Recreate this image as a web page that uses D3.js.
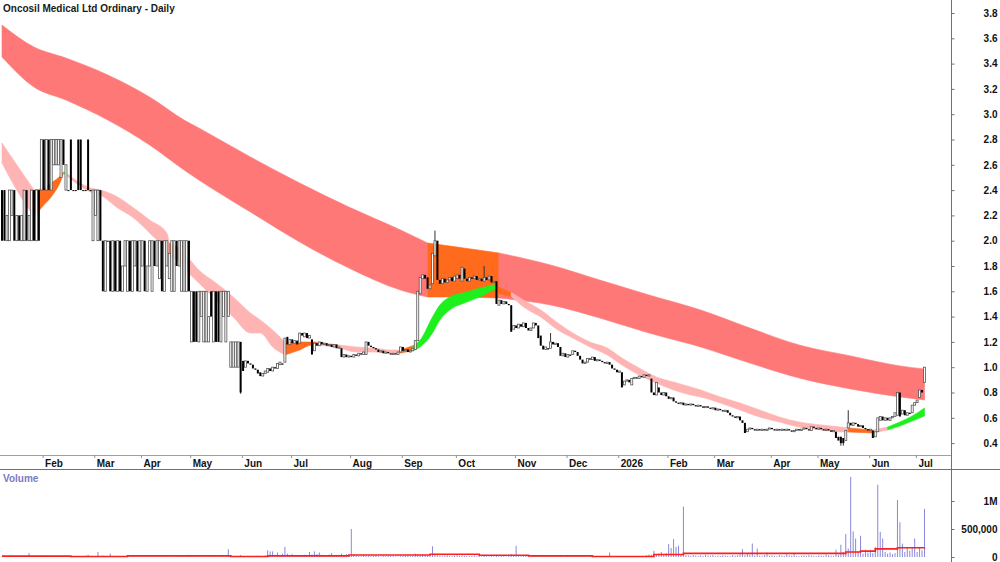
<!DOCTYPE html>
<html>
<head>
<meta charset="utf-8">
<script src="https://cdnjs.cloudflare.com/ajax/libs/d3/7.8.5/d3.min.js"></script>
<style>
    body { margin: 0; background: #fff; }
    #chart-area text { font-family: "Liberation Sans", Arial, sans-serif; font-weight: bold; }
</style>
</head>
<body>
<div id="chart-area"></div>
<script>

// ---- data ----
var titleText = "Oncosil Medical Ltd Ordinary - Daily";

var monthLabels = ["Feb","Mar","Apr","May","Jun","Jul","Aug","Sep","Oct","Nov","Dec","2026","Feb","Mar","Apr","May","Jun","Jul"];
var monthStarts = [17, 38, 57, 77, 98, 118, 142, 163, 185, 209, 230, 251, 271, 290, 313, 332, 353, 372];

var priceTicks = [0.4, 0.6, 0.8, 1.0, 1.2, 1.4, 1.6, 1.8, 2.0, 2.2, 2.4, 2.6, 2.8, 3.0, 3.2, 3.4, 3.6, 3.8];
var volumeTicks = [0, 500000, 1000000];
var volumeTickLabels = ["0", "500,000", "1M"];

// [open, close] per daily bar
var ocBars = [
    [2.4,2.0],[2.4,2.0],[2.0,2.2],[2.0,2.4],[2.2,2.4],[2.4,2.0],[2.0,2.2],[2.2,2.0],[2.0,2.2],[2.0,2.4],
    [2.4,2.0],[2.0,2.2],[2.0,2.4],[2.4,2.0],[2.0,2.4],[2.4,2.0],[2.4,2.8],[2.8,2.4],[2.4,2.8],[2.8,2.4],
    [2.4,2.8],[2.6,2.8],[2.6,2.8],[2.6,2.8],[2.5,2.8],[2.8,2.6],[2.4,2.6],[2.4,2.4],[2.8,2.4],[2.4,2.4],
    [2.4,2.4],[2.8,2.4],[2.8,2.4],[2.4,2.4],[2.4,2.4],[2.8,2.4],[2.4,2.4],[2.0,2.4],[2.2,2.4],[2.0,2.4],
    [2.4,2.0],[2.0,1.6],[1.6,2.0],[2.0,2.0],[2.0,1.6],[1.6,2.0],[2.0,1.6],[1.6,2.0],[2.0,1.6],[1.6,1.8],
    [1.8,2.0],[1.6,2.0],[2.0,1.6],[1.6,2.0],[1.8,2.0],[2.0,1.6],[1.6,2.0],[1.8,2.0],[2.0,1.6],[1.6,1.8],
    [1.8,2.0],[1.6,2.0],[2.0,1.8],[1.8,2.0],[1.7,2.0],[2.0,1.6],[1.6,2.0],[1.8,2.0],[1.7,1.9],[1.6,2.0],
    [1.6,2.0],[2.0,1.8],[1.8,2.0],[1.6,2.0],[1.6,2.0],[1.6,2.0],[2.0,1.6],[1.2,1.6],[1.6,1.2],[1.6,1.2],
    [1.2,1.6],[1.4,1.6],[1.2,1.6],[1.2,1.6],[1.2,1.4],[1.6,1.4],[1.2,1.6],[1.6,1.2],[1.6,1.2],[1.2,1.6],
    [1.4,1.6],[1.2,1.6],[1.4,1.6],[1.0,1.2],[1.0,1.2],[1.0,1.2],[1.0,1.2],[1.2,0.8],[1.05,0.97],[1.0,1.05],
    [1.05,1.03],[1.03,1.02],[1.02,0.99],[0.99,0.98],[0.98,0.95],[0.96,0.93],[0.93,0.95],[0.95,0.97],[0.96,0.99],[0.99,0.97],
    [0.97,1.0],[1.0,0.99],[0.99,1.03],[1.02,1.04],[1.03,1.02],[1.04,1.23],[1.24,1.18],[1.18,1.22],[1.22,1.19],[1.19,1.21],
    [1.21,1.18],[1.19,1.27],[1.27,1.25],[1.24,1.27],[1.27,1.23],[1.23,1.25],[1.22,1.10],[1.13,1.19],[1.19,1.17],[1.17,1.20],
    [1.20,1.18],[1.18,1.19],[1.19,1.17],[1.17,1.18],[1.18,1.16],[1.16,1.18],[1.18,1.15],[1.15,1.16],[1.15,1.08],[1.08,1.10],
    [1.10,1.08],[1.08,1.09],[1.09,1.08],[1.08,1.10],[1.10,1.09],[1.09,1.11],[1.11,1.10],[1.10,1.12],[1.10,1.20],[1.20,1.17],
    [1.17,1.16],[1.16,1.15],[1.15,1.14],[1.14,1.12],[1.12,1.13],[1.13,1.11],[1.11,1.12],[1.12,1.11],[1.11,1.10],[1.10,1.11],
    [1.11,1.10],[1.10,1.12],[1.12,1.16],[1.16,1.13],[1.13,1.14],[1.14,1.12],[1.12,1.13],[1.13,1.15],[1.14,1.21],[1.21,1.60],
    [1.58,1.71],[1.70,1.73],[1.73,1.70],[1.71,1.62],[1.62,1.65],[1.66,1.90],[1.88,2.00],[2.00,1.69],[1.69,1.66],[1.66,1.70],
    [1.70,1.67],[1.67,1.69],[1.69,1.71],[1.71,1.68],[1.68,1.72],[1.70,1.73],[1.73,1.70],[1.68,1.79],[1.78,1.70],[1.70,1.68],
    [1.68,1.71],[1.71,1.70],[1.70,1.72],[1.72,1.69],[1.69,1.70],[1.70,1.68],[1.68,1.71],[1.71,1.69],[1.69,1.72],[1.72,1.67],
    [1.67,1.68],[1.68,1.50],[1.49,1.53],[1.53,1.50],[1.50,1.52],[1.52,1.50],[1.50,1.49],[1.49,1.28],[1.30,1.33],[1.33,1.31],
    [1.31,1.34],[1.34,1.32],[1.32,1.35],[1.35,1.31],[1.31,1.29],[1.29,1.31],[1.31,1.35],[1.35,1.33],[1.33,1.23],[1.25,1.17],
    [1.17,1.14],[1.14,1.16],[1.15,1.14],[1.15,1.20],[1.20,1.18],[1.18,1.19],[1.19,1.16],[1.16,1.09],[1.09,1.11],[1.11,1.08],
    [1.08,1.10],[1.10,1.09],[1.10,1.13],[1.13,1.12],[1.12,1.09],[1.09,1.06],[1.06,1.03],[1.03,1.04],[1.04,1.07],[1.07,1.06],
    [1.06,1.08],[1.08,1.05],[1.05,1.06],[1.06,1.05],[1.05,1.04],[1.04,1.03],[1.03,1.04],[1.04,1.02],[1.02,0.99],[0.99,0.98],
    [0.98,0.96],[0.96,0.97],[0.96,0.84],[0.86,0.89],[0.89,0.90],[0.90,0.88],[0.86,0.91],[0.91,0.92],[0.92,0.91],[0.91,0.93],
    [0.93,0.92],[0.92,0.94],[0.94,0.93],[0.93,0.94],[0.91,0.80],[0.80,0.78],[0.78,0.88],[0.84,0.80],[0.80,0.78],[0.78,0.80],
    [0.80,0.77],[0.77,0.75],[0.75,0.76],[0.76,0.73],[0.73,0.72],[0.72,0.71],[0.71,0.72],[0.72,0.70],[0.70,0.71],[0.71,0.70],
    [0.70,0.71],[0.71,0.70],[0.70,0.69],[0.69,0.70],[0.70,0.69],[0.69,0.68],[0.68,0.69],[0.69,0.68],[0.68,0.67],[0.67,0.68],
    [0.68,0.66],[0.66,0.67],[0.67,0.66],[0.66,0.65],[0.65,0.66],[0.66,0.64],[0.64,0.62],[0.62,0.61],[0.61,0.60],[0.60,0.61],
    [0.61,0.58],[0.58,0.56],[0.56,0.48],[0.49,0.51],[0.51,0.52],[0.52,0.51],[0.51,0.50],[0.50,0.51],[0.51,0.50],[0.50,0.51],
    [0.51,0.50],[0.50,0.51],[0.51,0.52],[0.52,0.51],[0.51,0.50],[0.50,0.51],[0.51,0.50],[0.50,0.51],[0.51,0.50],[0.50,0.51],
    [0.51,0.50],[0.50,0.49],[0.49,0.50],[0.50,0.51],[0.51,0.50],[0.50,0.51],[0.51,0.52],[0.52,0.51],[0.51,0.50],[0.50,0.53],
    [0.53,0.52],[0.52,0.51],[0.51,0.52],[0.52,0.51],[0.51,0.50],[0.50,0.51],[0.51,0.50],[0.50,0.49],[0.49,0.50],[0.49,0.44],
    [0.45,0.42],[0.45,0.40],[0.44,0.40],[0.42,0.50],[0.52,0.56],[0.56,0.54],[0.54,0.56],[0.56,0.55],[0.55,0.53],[0.53,0.54],
    [0.54,0.52],[0.52,0.51],[0.51,0.50],[0.50,0.51],[0.50,0.44],[0.45,0.49],[0.49,0.60],[0.58,0.61],[0.61,0.58],[0.58,0.60],
    [0.60,0.58],[0.58,0.60],[0.60,0.61],[0.61,0.64],[0.62,0.80],[0.80,0.61],[0.63,0.66],[0.66,0.62],[0.62,0.64],[0.64,0.63],
    [0.64,0.70],[0.70,0.72],[0.72,0.74],[0.76,0.82],[0.82,0.80],[0.88,1.00]
];

// [bar, high, low] for bars with shadows beyond the body
var wicks = [[97, 1.2, 0.79], [176, 2.08, 1.88], [196, 1.80, 1.68], [223, 1.27, 1.15],
             [341, 0.45, 0.38], [342, 0.44, 0.38], [344, 0.66, 0.52]];

// daily volume, thousands of shares
var volumesK = [
    10,15,8,12,5,20,10,8,15,12,  10,70,12,8,15,20,10,12,25,15,
    10,8,12,20,10,15,8,5,12,10,  8,15,10,12,20,40,15,10,12,90,
    15,25,12,10,60,20,10,15,8,12,  10,8,5,12,10,8,15,10,5,8,
    10,12,8,5,10,8,12,10,8,5,  10,8,12,15,10,12,40,10,8,12,
    10,8,5,10,12,8,10,5,8,10,  12,10,140,15,10,8,20,35,15,10,
    12,20,15,10,25,12,18,30,120,100,  100,40,80,35,60,180,60,40,50,30,
    25,35,30,40,35,90,45,100,50,80,  40,30,35,45,70,30,25,40,60,35,
    50,30,500,40,25,20,15,30,25,20,  15,20,25,15,10,20,15,25,20,15,
    10,12,15,20,25,30,15,20,60,40,  30,45,35,25,40,190,60,30,25,20,
    25,30,20,15,25,30,20,25,20,15,  15,20,25,15,20,10,25,15,12,15,
    10,20,15,25,15,10,20,50,30,200,  20,15,25,20,15,12,20,25,15,20,
    25,15,30,20,15,12,20,15,10,8,  12,15,10,8,12,10,15,12,8,10,
    12,15,10,20,15,10,12,80,15,10,  8,12,15,10,8,12,10,15,12,8,
    10,12,30,45,40,110,50,60,90,55,  70,230,160,320,180,200,40,900,30,25,
    20,35,25,15,30,20,40,25,20,35,  15,25,20,30,25,20,15,35,25,30,
    45,140,35,60,40,240,30,150,25,20,  35,80,25,30,20,15,35,25,20,50,
    30,25,60,20,15,25,30,20,35,25,  20,15,30,25,20,45,30,25,20,130,
    40,220,90,410,150,1430,460,330,100,380,  60,130,80,130,70,180,1290,450,330,90,
    60,80,50,70,1020,620,240,90,180,110,  180,330,90,180,120,860
];

// volume average line, [bar, thousands]
var volumeAvgK = [[0,15],[28,8],[51,20],[93,8],[108,20],[141,35],[174,50],[194,30],[214,20],[240,8],
                  [265,45],[277,65],[334,65],[343,90],[349,105],[355,145],[364,165],[375,170]];

// long-term average band: [bar, upper, lower]
var longBand = [
    [0,3.705,3.452],[13,3.531,3.215],[26,3.444,3.112],[43,3.310,2.954],[60,3.136,2.757],[74,2.954,2.559],
    [80,2.891,2.480],[101,2.662,2.227],[121,2.456,1.990],[141,2.266,1.784],[162,2.085,1.610],[173,1.982,1.555],
    [182,1.958,1.555],[202,1.903,1.547],[223,1.808,1.492],[243,1.689,1.389],[263,1.571,1.270],[284,1.452,1.160],
    [304,1.310,1.033],[324,1.176,0.915],[345,1.089,0.828],[365,1.010,0.765],[375,0.986,0.741]
];
var longBandColours = [[0,173,"salmon"],[173,202,"orange"],[202,375,"salmon"]];

// short-term average band: [bar, upper, lower]
var shortBand = [
    [0,2.772,2.614],[6,2.60,2.40],[13,2.401,2.187],[17,2.417,2.282],[20,2.456,2.346],[24,2.519,2.480],
    [25,2.543,2.535],[26,2.535,2.519],[36,2.417,2.385],[40,2.401,2.361],[47,2.346,2.259],[53,2.266,2.187],
    [60,2.164,2.061],[67,2.061,1.911],[68,1.98,1.88],[72,1.942,1.832],[76,1.86,1.74],[80,1.768,1.666],
    [87,1.666,1.531],[94,1.555,1.397],[101,1.429,1.270],[105,1.373,1.270],[110,1.294,1.160],[115,1.199,1.097],
    [121,1.199,1.136],[126,1.199,1.176],[128,1.199,1.176],[137,1.176,1.152],[144,1.160,1.120],[151,1.152,1.120],
    [158,1.136,1.112],[162,1.136,1.112],[167,1.17,1.13],[170,1.215,1.160],[175,1.397,1.270],[178,1.492,1.373],
    [182,1.555,1.452],[189,1.595,1.515],[196,1.634,1.571],[200,1.650,1.610],[201,1.645,1.600],[202,1.634,1.587],
    [207,1.59,1.56],[212,1.531,1.476],[219,1.452,1.397],[226,1.349,1.294],[232,1.270,1.231],[239,1.199,1.160],
    [246,1.152,1.097],[252,1.073,1.017],[259,0.994,0.938],[266,0.923,0.875],[273,0.883,0.820],[280,0.843,0.780],
    [284,0.820,0.765],[292,0.765,0.717],[300,0.717,0.662],[308,0.662,0.606],[316,0.606,0.567],[324,0.567,0.527],
    [333,0.543,0.504],[341,0.527,0.488],[344,0.520,0.488],[354,0.504,0.480],[360,0.527,0.504],[365,0.567,0.535],
    [370,0.614,0.575],[375,0.678,0.614]
];
var shortBandColours = [[0,13,"pink"],[13,25,"orange"],[25,26,"green"],[26,68,"pink"],[68,76,"orange"],
    [76,115,"pink"],[115,128,"orange"],[128,162,"pink"],[162,167,"orange"],[167,201,"green"],[201,207,"orange"],
    [207,344,"pink"],[344,354,"orange"],[354,360,"pink"],[360,375,"green"]];

var bandPalette = { salmon: "#ff7878", orange: "#ff6a1c", green: "#1ef01e", pink: "#ffb4b4" };


/*
 * StockChart - price panel with average bands, candles and a volume panel
 */
StockChart = function(_parentElement){
    this.parentElement = _parentElement;
    this.initVis();
}

StockChart.prototype.initVis = function(){
    var vis = this;

    vis.width = 1000;
    vis.height = 562;
    vis.axisX = 951;
    vis.priceBottom = 455;
    vis.dateBottom = 469;

    vis.svg = d3.select("#" + vis.parentElement).append("svg")
        .attr("width", vis.width)
        .attr("height", vis.height)
        .style("display", "block");

    vis.svg.append("defs").append("clipPath").attr("id", "price-clip")
        .append("rect").attr("x", 0).attr("y", 0).attr("width", vis.axisX).attr("height", vis.priceBottom);

    // Scales
    vis.x = d3.scaleLinear().domain([0, ocBars.length - 1]).range([2, 924.5]);
    vis.y = d3.scaleLinear().domain([0.4, 3.8]).range([443.1, 13]);
    vis.yVol = d3.scaleLinear().domain([0, 1000000]).range([557, 501]);

    vis.updateVis();
}

StockChart.prototype.updateVis = function(){
    var vis = this;
    var x = vis.x, y = vis.y;

    var price = vis.svg.append("g").attr("clip-path", "url(#price-clip)");

    // bands
    var bandArea = d3.area()
        .x(function(d){ return x(d[0]); })
        .y0(function(d){ return y(d[2]); })
        .y1(function(d){ return y(d[1]); })
        .curve(d3.curveMonotoneX);

    function drawBand(data, colours){
        colours.forEach(function(c){
            var part = data.filter(function(d){ return d[0] >= c[0] && d[0] <= c[1]; });
            price.append("path")
                .attr("d", bandArea(part))
                .attr("fill", bandPalette[c[2]])
                .attr("stroke", bandPalette[c[2]])
                .attr("stroke-width", 0.6);
        });
    }
    drawBand(longBand, longBandColours);
    drawBand(shortBand, shortBandColours);

    // wicks
    price.selectAll(".wick").data(wicks).enter().append("line")
        .attr("x1", function(d){ return x(d[0]); })
        .attr("x2", function(d){ return x(d[0]); })
        .attr("y1", function(d){ return y(d[1]); })
        .attr("y2", function(d){ return y(d[2]); })
        .attr("stroke", "#333")
        .attr("stroke-width", 1);

    // candles
    price.selectAll(".candle").data(ocBars).enter().append("rect")
        .attr("x", function(d, i){ return x(i) - 1; })
        .attr("width", 2)
        .attr("y", function(d){ return y(Math.max(d[0], d[1])); })
        .attr("height", function(d){ return Math.max(1, y(Math.min(d[0], d[1])) - y(Math.max(d[0], d[1]))); })
        .attr("fill", function(d){ return d[1] > d[0] ? "#fff" : "#000"; })
        .attr("stroke", function(d){ return d[1] > d[0] ? "#555" : "none"; })
        .attr("stroke-width", 0.8);

    // title
    vis.svg.append("text")
        .attr("x", 3).attr("y", 12)
        .attr("font-size", "10px")
        .attr("fill", "#1a1a1a")
        .text(titleText);

    // frame lines
    vis.svg.append("line").attr("x1", 0).attr("x2", vis.axisX).attr("y1", vis.priceBottom + 0.5).attr("y2", vis.priceBottom + 0.5)
        .attr("stroke", "#a0a0a0");
    vis.svg.append("line").attr("x1", 0).attr("x2", vis.width).attr("y1", vis.dateBottom + 0.5).attr("y2", vis.dateBottom + 0.5)
        .attr("stroke", "#707070");
    vis.svg.append("line").attr("x1", vis.axisX + 0.5).attr("x2", vis.axisX + 0.5).attr("y1", 0).attr("y2", vis.height)
        .attr("stroke", "#707070");

    // date axis
    var xAxis = d3.axisBottom(x)
        .tickValues(monthStarts.map(function(d){ return d - 0.5; }))
        .tickSize(3)
        .tickFormat(function(d, i){ return monthLabels[i]; });
    var gx = vis.svg.append("g").attr("transform", "translate(0," + vis.priceBottom + ")").call(xAxis);
    gx.select(".domain").remove();
    gx.selectAll("line").attr("stroke", "#909090");
    gx.selectAll("text")
        .attr("text-anchor", "start")
        .attr("x", 2).attr("y", 5)
        .attr("font-size", "10px")
        .attr("fill", "#111");

    // price axis
    var yAxis = d3.axisRight(y).tickValues(priceTicks).tickSize(3).tickFormat(d3.format(".1f"));
    var gy = vis.svg.append("g").attr("transform", "translate(" + (vis.axisX + 0.5) + ",0)").call(yAxis);
    gy.select(".domain").remove();
    gy.selectAll("line").attr("stroke", "#707070");
    gy.selectAll("text")
        .attr("text-anchor", "end")
        .attr("x", 46)
        .attr("font-size", "10px")
        .attr("fill", "#111");

    // volume panel
    vis.svg.append("text")
        .attr("x", 3).attr("y", 482)
        .attr("font-size", "10px")
        .attr("fill", "#7b7bc4")
        .text("Volume");

    var vol = vis.svg.append("g");
    vol.selectAll(".vbar").data(volumesK).enter().append("line")
        .attr("x1", function(d, i){ return x(i); })
        .attr("x2", function(d, i){ return x(i); })
        .attr("y1", vis.yVol(0))
        .attr("y2", function(d){ return vis.yVol(d * 1000); })
        .attr("stroke", "#8888dc")
        .attr("stroke-width", 1);

    var avgLine = d3.line()
        .x(function(d){ return x(d[0]); })
        .y(function(d){ return vis.yVol(d[1] * 1000); })
        .curve(d3.curveStepAfter);
    vol.append("path")
        .attr("d", avgLine(volumeAvgK))
        .attr("fill", "none")
        .attr("stroke", "#ff1e1e")
        .attr("stroke-width", 1.6);

    var vAxis = d3.axisRight(vis.yVol).tickValues(volumeTicks).tickSize(3)
        .tickFormat(function(d, i){ return volumeTickLabels[i]; });
    var gv = vis.svg.append("g").attr("transform", "translate(" + (vis.axisX + 0.5) + ",0)").call(vAxis);
    gv.select(".domain").remove();
    gv.selectAll("line").attr("stroke", "#707070");
    gv.selectAll("text")
        .attr("text-anchor", "end")
        .attr("x", 46)
        .attr("font-size", "10px")
        .attr("fill", "#111");
}

var chart = new StockChart("chart-area");

</script>
</body>
</html>
